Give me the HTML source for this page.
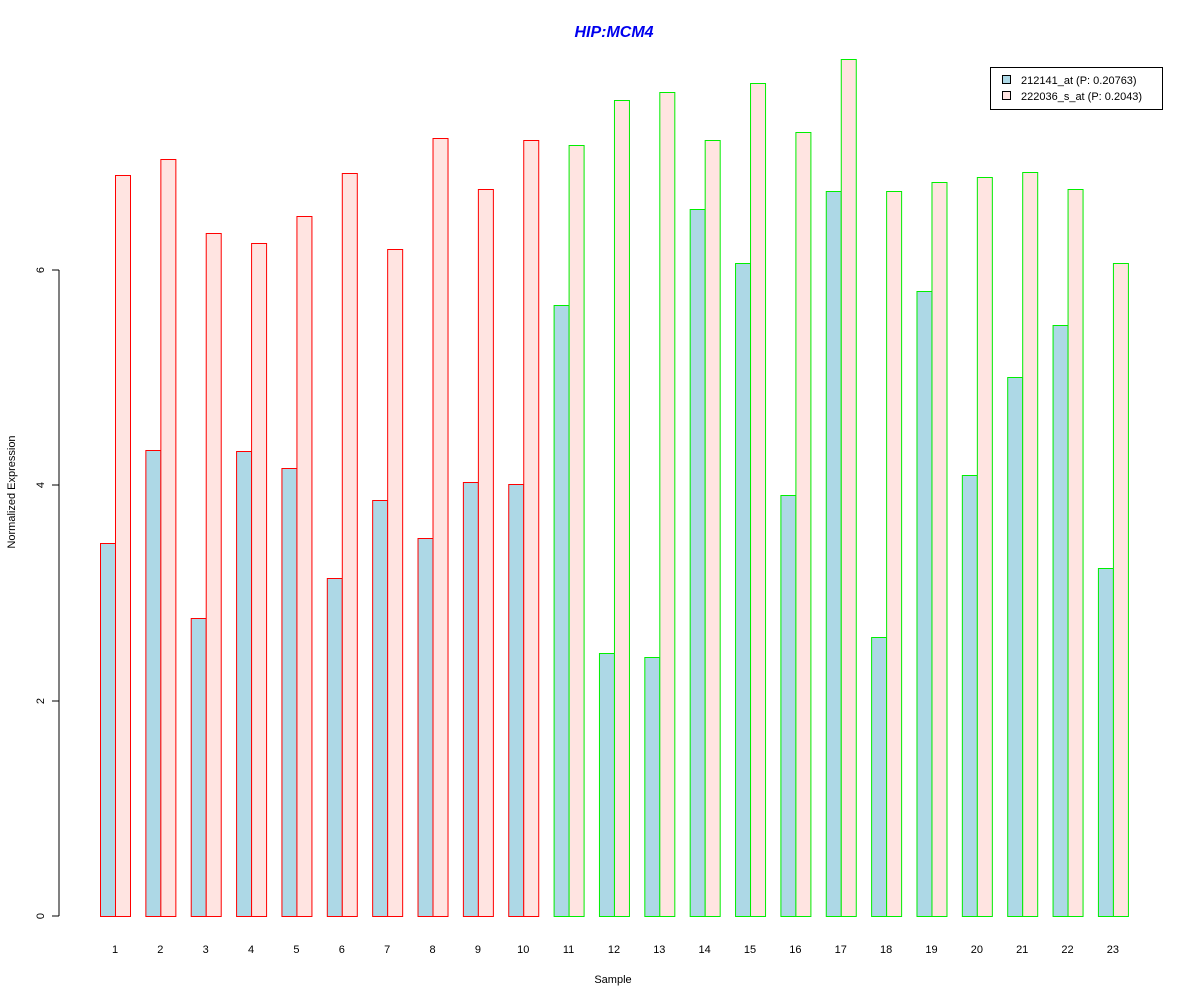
<!DOCTYPE html><html><head><style>body{margin:0;background:#fff}svg{display:block}text{font-family:"Liberation Sans",Arial,sans-serif}</style></head><body>
<svg id="s" width="1200" height="1000" xmlns="http://www.w3.org/2000/svg">
<rect width="1200" height="1000" fill="#fff"/>
<text x="614" y="37" text-anchor="middle" font-size="16" font-weight="bold" font-style="italic" fill="#0000ee">HIP:MCM4</text>
<line x1="59" y1="270" x2="59" y2="916" stroke="#000"/>
<g stroke="#000"><line x1="52" y1="916" x2="59" y2="916"/><line x1="52" y1="701" x2="59" y2="701"/><line x1="52" y1="485" x2="59" y2="485"/><line x1="52" y1="270" x2="59" y2="270"/></g>
<g font-size="11" text-anchor="middle">
<text transform="translate(44,916) rotate(-90)">0</text>
<text transform="translate(44,701) rotate(-90)">2</text>
<text transform="translate(44,485) rotate(-90)">4</text>
<text transform="translate(44,270) rotate(-90)">6</text>
<text transform="translate(15,492) rotate(-90)">Normalized Expression</text>
<text x="613" y="983">Sample</text>
</g>
<g id="bars"></g>
<rect x="990.5" y="67.5" width="172" height="42" fill="#fff" stroke="#000"/>
<rect x="1002.5" y="75.5" width="8" height="8" fill="#add8e6" stroke="#000"/>
<rect x="1002.5" y="91.5" width="8" height="8" fill="#ffe4e1" stroke="#000"/>
<text x="1021" y="84" font-size="11">212141_at (P: 0.20763)</text>
<text x="1021" y="100" font-size="11">222036_s_at (P: 0.2043)</text>
</svg>
<script>
var b=[543,450,618,451,468,578,500,538,482,484,305,653,657,209,263,495,191,637,291,475,377,325,568];
var p=[175,159,233,243,216,173,249,138,189,140,145,100,92,140,83,132,59,191,182,177,172,189,263];
var h='';
for(var i=0;i<23;i++){var x=100+i*45.36,c=i<10?'#ff0000':'#00ee00';
h+='<rect x="'+(x+.5)+'" y="'+(b[i]+.5)+'" width="15" height="'+(916-b[i])+'" fill="#add8e6" stroke="'+c+'"/>';
h+='<rect x="'+(x+15.5)+'" y="'+(p[i]+.5)+'" width="15" height="'+(916-p[i])+'" fill="#ffe4e1" stroke="'+c+'"/>';
h+='<text x="'+(x+15)+'" y="953" font-size="11" text-anchor="middle">'+(i+1)+'</text>';}
document.getElementById('bars').innerHTML=h;
</script>
</body></html>
